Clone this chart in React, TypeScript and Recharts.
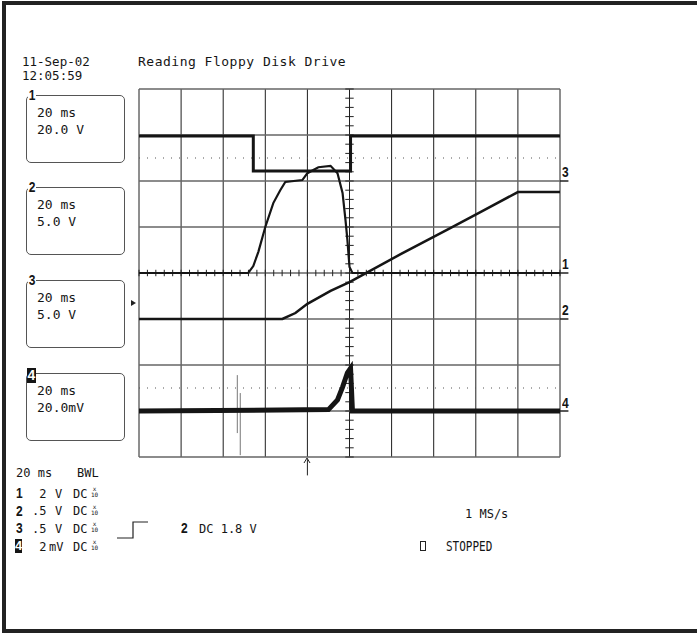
import React from 'react';
import { LineChart, Line, XAxis, YAxis, CartesianGrid, ReferenceLine } from 'recharts';

// time in ms (trigger at 0), 20 ms/div; vertical position in screen divisions (0 = centre line)
const TIME_TICKS = [-80, -60, -40, -20, 0, 20, 40, 60, 80, 100, 120];
const DIV_TICKS = [-4, -3, -2, -1, 0, 1, 2, 3, 4];

// channel 3 - drive select step
const ch3 = [
    { t: -80, v: 2.98 }, { t: -25.7, v: 2.98 }, { t: -25.7, v: 2.22 },
    { t: 20.5, v: 2.22 }, { t: 20.5, v: 2.98 }, { t: 120, v: 2.98 },
];

// channel 1 - motor pulse
const ch1 = [
    { t: -80, v: 0 }, { t: -28.1, v: 0 }, { t: -25.7, v: 0.15 }, { t: -23.3, v: 0.46 },
    { t: -20.0, v: 1.0 }, { t: -16.2, v: 1.52 }, { t: -12.9, v: 1.8 }, { t: -10.5, v: 1.98 },
    { t: -2.4, v: 2.02 }, { t: 0, v: 2.17 }, { t: 5.2, v: 2.3 }, { t: 11.0, v: 2.33 },
    { t: 14.3, v: 2.17 }, { t: 16.7, v: 1.74 }, { t: 18.1, v: 1.15 }, { t: 19.0, v: 0.72 },
    { t: 20.0, v: 0.13 }, { t: 21.4, v: 0 }, { t: 120, v: 0 },
];

// channel 2 - ramp
const ch2 = [
    { t: -80, v: -1.0 }, { t: -11.9, v: -1.0 }, { t: -5.7, v: -0.87 }, { t: 0, v: -0.67 },
    { t: 11.0, v: -0.39 }, { t: 20.0, v: -0.2 }, { t: 25.2, v: -0.07 }, { t: 44.3, v: 0.41 },
    { t: 68.1, v: 0.98 }, { t: 82.4, v: 1.33 }, { t: 100, v: 1.76 }, { t: 120, v: 1.76 },
];

// channel 4 - current probe
const ch4 = [
    { t: -80, v: -3.0 }, { t: 10.0, v: -2.97 }, { t: 14.3, v: -2.76 }, { t: 16.7, v: -2.48 },
    { t: 19.0, v: -2.17 }, { t: 20.5, v: -2.07 }, { t: 21.4, v: -3.0 }, { t: 120, v: -3.0 },
];
const glitchA = [{ t: -33.3, v: -2.22 }, { t: -33.3, v: -3.48 }];
const glitchB = [{ t: -31.9, v: -2.61 }, { t: -31.9, v: -3.96 }];

const GROUND_LEVELS = [
    { ch: '3', v: 2.0 },
    { ch: '1', v: 0 },
    { ch: '2', v: -1.0 },
    { ch: '4', v: -3.0 },
];

const CHANNEL_BOXES = [
    { ch: '1', top: 95, line1: '20 ms', line2: '20.0 V' },
    { ch: '2', top: 187, line1: '20 ms', line2: '5.0 V' },
    { ch: '3', top: 280, line1: '20 ms', line2: '5.0 V' },
    { ch: '4', top: 373, line1: '20 ms', line2: '20.0mV' },
];

const SCALE_ROWS = [
    { ch: '1', val: ' 2', unit: 'V' },
    { ch: '2', val: '.5', unit: 'V' },
    { ch: '3', val: '.5', unit: 'V' },
    { ch: '4', val: ' 2', unit: 'mV' },
];

const MINOR_T = Array.from({ length: 51 }, (_, i) => -80 + i * 4);
const MINOR_V = Array.from({ length: 41 }, (_, i) => -4 + i * 0.2);

const mono = '"DejaVu Sans Mono", monospace';
const ink = '#151515';

const txt = (left: number, cy: number, size = 13): React.CSSProperties => ({
    position: 'absolute', left, top: cy - size * 0.45, fontFamily: mono, fontSize: size,
    lineHeight: `${size * 1.1}px`, color: ink, whiteSpace: 'pre',
});

const bold = (left: number, cy: number): React.CSSProperties => ({
    position: 'absolute', left, top: cy - 9, fontFamily: '"Liberation Sans", sans-serif', fontWeight: 'bold',
    fontSize: 15, lineHeight: '18px', color: ink, transform: 'scaleX(0.8)', transformOrigin: 'left',
});

export default function App() {
    return (
        <div style={{ position: 'absolute', left: 0, top: 0, width: 697, height: 633, background: '#fff', overflow: 'hidden' }}>
            {/* outer frame */}
            <div style={{ position: 'absolute', left: 2, top: 1, width: 700, height: 632, boxSizing: 'border-box', borderLeft: '4px solid #222', borderTop: '4px solid #222', borderBottom: '4px solid #222' }} />

            <LineChart width={697} height={633} data={ch1} margin={{ top: 89, left: 139, right: 137, bottom: 176 }} style={{ position: 'absolute', left: 0, top: 0 }}>
                <XAxis dataKey="t" type="number" domain={[-80, 120]} ticks={TIME_TICKS} interval={0} hide />
                <YAxis type="number" domain={[-4, 4]} ticks={DIV_TICKS} interval={0} hide />
                <CartesianGrid horizontal={false} stroke="#1e1e1e" strokeWidth={1} />
                <CartesianGrid vertical={false} stroke="#666" strokeWidth={1.4} />

                {[2.5, -2.5].map((v) => (
                    <ReferenceLine key={`dot-${v}`} y={v} stroke="#555" strokeDasharray="1 7" strokeWidth={1} />
                ))}
                {MINOR_T.map((t) => (
                    <ReferenceLine key={`mt-${t}`} segment={[{ x: t, y: -0.07 }, { x: t, y: 0.07 }]} stroke="#222" strokeWidth={1} />
                ))}
                {MINOR_V.map((v) => (
                    <ReferenceLine key={`mv-${v.toFixed(1)}`} segment={[{ x: 18, y: v }, { x: 22, y: v }]} stroke="#222" strokeWidth={1} />
                ))}
                {GROUND_LEVELS.map((g) => (
                    <ReferenceLine key={`gl-${g.ch}`} segment={[{ x: 120, y: g.v }, { x: 124, y: g.v }]} stroke="#222" strokeWidth={1.5} ifOverflow="visible" />
                ))}
                {/* trigger position arrow */}
                <ReferenceLine segment={[{ x: 0, y: -4.05 }, { x: 0, y: -4.4 }]} stroke="#222" strokeWidth={1} ifOverflow="visible" />

                <Line data={glitchA} dataKey="v" type="linear" stroke="#777" strokeWidth={1} dot={false} isAnimationActive={false} />
                <Line data={glitchB} dataKey="v" type="linear" stroke="#777" strokeWidth={1} dot={false} isAnimationActive={false} />
                <Line data={ch4} dataKey="v" type="linear" stroke={ink} strokeWidth={5} dot={false} isAnimationActive={false} />
                <Line data={ch2} dataKey="v" type="linear" stroke={ink} strokeWidth={2.5} dot={false} isAnimationActive={false} />
                <Line data={ch1} dataKey="v" type="linear" stroke={ink} strokeWidth={2.2} dot={false} isAnimationActive={false} />
                <Line data={ch3} dataKey="v" type="linear" stroke={ink} strokeWidth={3} dot={false} isAnimationActive={false} />
            </LineChart>

            {/* arrow head and trigger level marker */}
            <svg width={697} height={633} style={{ position: 'absolute', left: 0, top: 0, pointerEvents: 'none' }}>
                <path d="M304,463 L307,458 L310,463" fill="none" stroke="#222" strokeWidth={1} />
                <path d="M131,300 L136,303 L131,306 Z" fill="#222" />
                {/* trigger slope symbol */}
                <path d="M117,538 L133,538 L133,522 L148,522" fill="none" stroke="#222" strokeWidth={1.2} />
                <rect x={420.5} y={541.5} width={5} height={9} fill="none" stroke="#222" strokeWidth={1} />
            </svg>

            {/* header */}
            <div style={txt(22, 61, 12.5)}>11-Sep-02</div>
            <div style={txt(22, 75, 12.5)}>12:05:59</div>
            <div style={{ ...txt(138, 61, 13), letterSpacing: 0.5 }}>Reading Floppy Disk Drive</div>

            {/* channel boxes */}
            {CHANNEL_BOXES.map((b) => (
                <React.Fragment key={b.ch}>
                    <div style={{ position: 'absolute', left: 26, top: b.top, width: 97, height: 66, border: '1px solid #555', borderRadius: 5 }} />
                    {b.ch === '4' ? (
                        <div style={{ position: 'absolute', left: 27, top: b.top - 5, width: 9, height: 15, background: ink, color: '#fff', fontFamily: '"Liberation Sans", sans-serif', fontWeight: 'bold', fontSize: 14, lineHeight: '15px', textAlign: 'center' }}>4</div>
                    ) : (
                        <div style={{ ...bold(28, b.top), background: '#fff', padding: '0 1px' }}>{b.ch}</div>
                    )}
                    <div style={txt(37, b.top + 17)}>{b.line1}</div>
                    <div style={txt(37, b.top + 34)}>{b.line2}</div>
                </React.Fragment>
            ))}

            {/* ground markers on the right */}
            {[{ ch: '3', cy: 172 }, { ch: '1', cy: 264 }, { ch: '2', cy: 310 }, { ch: '4', cy: 403 }].map((m) => (
                <div key={`gm-${m.ch}`} style={bold(562, m.cy)}>{m.ch}</div>
            ))}

            {/* bottom status */}
            <div style={txt(16, 472, 12)}>20 ms</div>
            <div style={txt(77, 472, 12)}>BWL</div>
            {SCALE_ROWS.map((r, i) => {
                const cy = 493 + i * 17.7;
                return (
                    <React.Fragment key={`row-${r.ch}`}>
                        {r.ch === '4' ? (
                            <div style={{ position: 'absolute', left: 15, top: cy - 7, width: 7, height: 14, background: ink, color: '#fff', fontFamily: '"Liberation Sans", sans-serif', fontWeight: 'bold', fontSize: 13, lineHeight: '14px', textAlign: 'center' }}>4</div>
                        ) : (
                            <div style={bold(16, cy)}>{r.ch}</div>
                        )}
                        <div style={txt(32, cy, 12)}>{r.val}</div>
                        <div style={txt(r.unit === 'mV' ? 49 : 55, cy, 12)}>{r.unit}</div>
                        <div style={txt(73, cy, 12)}>DC</div>
                        <div style={{ position: 'absolute', left: 91, top: cy - 7, fontFamily: mono, fontSize: 6, lineHeight: '6px', color: ink, textAlign: 'center' }}>x<br />10</div>
                    </React.Fragment>
                );
            })}
            <div style={bold(181, 528)}>2</div>
            <div style={txt(199, 528, 12)}>DC 1.8 V</div>
            <div style={txt(465, 513, 12)}>1 MS/s</div>
            <div style={{ ...txt(446, 546, 11), transform: 'scaleY(1.2)' }}>STOPPED</div>
        </div>
    );
}
